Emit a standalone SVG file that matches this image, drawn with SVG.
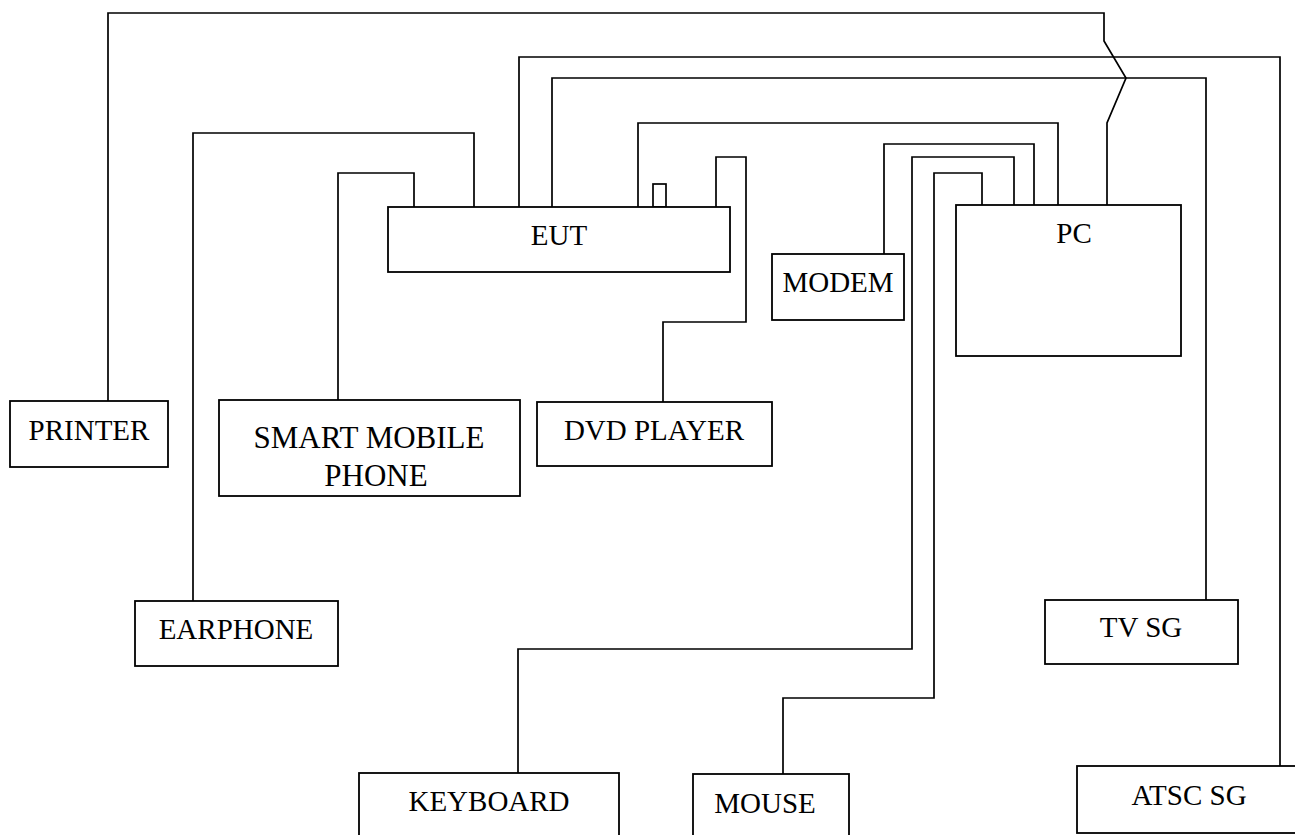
<svg xmlns="http://www.w3.org/2000/svg" width="1295" height="835" viewBox="0 0 1295 835">
<style>
.box{fill:#fff;stroke:#000;stroke-width:1.8}
.w{fill:none;stroke:#000;stroke-width:1.7}
text{font-family:"Liberation Serif","Times New Roman",serif;font-size:29px;fill:#000;text-anchor:middle}
</style>
<rect width="1295" height="835" fill="#fff"/>
<g id="connectors">
<polyline class="w" points="108,401 108,13 1104,13 1104,41 1126,78 1107,123 1107,205"/>
<polyline class="w" points="193,601 193,133 474,133 474,207"/>
<polyline class="w" points="338,400 338,173 414,173 414,207"/>
<polyline class="w" points="519,207 519,57 1280,57 1280,766"/>
<polyline class="w" points="552,207 552,78 1206,78 1206,600"/>
<polyline class="w" points="638,207 638,123 1058,123 1058,205"/>
<polyline class="w" points="716,207 716,157 746,157 746,322 663,322 663,402"/>
<polyline class="w" points="884,254 884,144 1034,144 1034,205"/>
<polyline class="w" points="518,773 518,649 912,649 912,157 1014,157 1014,205"/>
<polyline class="w" points="783,774 783,698 934,698 934,173 982,173 982,205"/>
<rect class="w" x="653" y="184" width="13" height="23" stroke-width="1"/>
</g>
<g id="eut"><rect class="box" x="388" y="207" width="342" height="65"/><text x="559" y="245">EUT</text></g>
<g id="pc"><rect class="box" x="956" y="205" width="225" height="151"/><text x="1074" y="243">PC</text></g>
<g id="modem"><rect class="box" x="772" y="254" width="132" height="66"/><text x="838" y="292">MODEM</text></g>
<g id="printer"><rect class="box" x="10" y="401" width="158" height="66"/><text x="89" y="440">PRINTER</text></g>
<g id="smartphone"><rect class="box" x="219" y="400" width="301" height="96"/><text x="369" y="448" style="font-size:31px">SMART MOBILE</text><text x="376" y="486" style="font-size:31px">PHONE</text></g>
<g id="dvd"><rect class="box" x="537" y="402" width="235" height="64"/><text x="654" y="440">DVD PLAYER</text></g>
<g id="earphone"><rect class="box" x="135" y="601" width="203" height="65"/><text x="236" y="639">EARPHONE</text></g>
<g id="tvsg"><rect class="box" x="1045" y="600" width="193" height="64"/><text x="1141" y="637">TV SG</text></g>
<g id="keyboard"><rect class="box" x="359" y="773" width="260" height="70"/><text x="489" y="811">KEYBOARD</text></g>
<g id="mouse"><rect class="box" x="693" y="774" width="156" height="70"/><text x="765" y="813">MOUSE</text></g>
<g id="atscsg"><rect class="box" x="1077" y="766" width="225" height="67"/><text x="1189" y="805">ATSC SG</text></g>
</svg>
